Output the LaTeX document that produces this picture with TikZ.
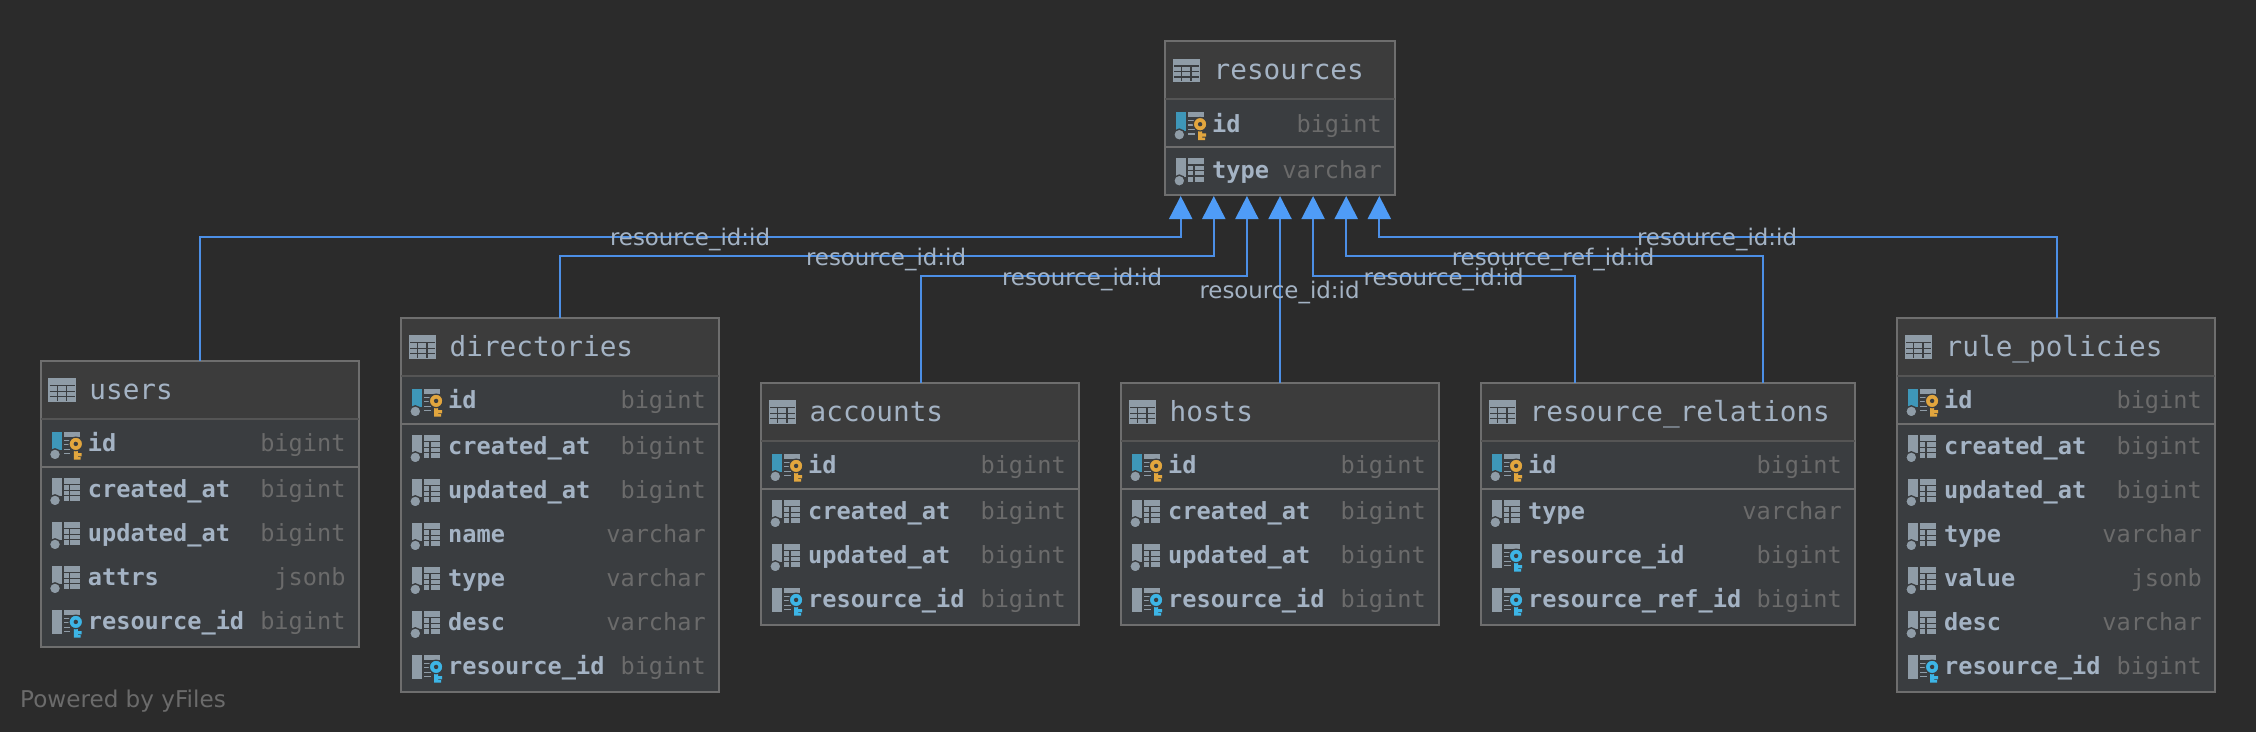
\documentclass[tikz,border=0pt]{standalone}
\usepackage{fontspec}
\setmainfont{DejaVu Sans}
\newfontfamily\tablefont{DejaVu Sans Mono}
\usetikzlibrary{arrows.meta}
\definecolor{canvas}{HTML}{2B2B2B}
\definecolor{headfill}{HTML}{3C3C3C}
\definecolor{rowfill}{HTML}{3A3D40}
\definecolor{edgegray}{HTML}{6E6E6E}
\definecolor{headline}{HTML}{555555}
\definecolor{nametext}{HTML}{A4B3C4}
\definecolor{typetext}{HTML}{6B6B6B}
\definecolor{iconbase}{HTML}{8F9CA7}
\definecolor{pkteal}{HTML}{3E97B9}
\definecolor{pkkey}{HTML}{E2A63E}
\definecolor{fkkey}{HTML}{3DB5E6}
\definecolor{linkblue}{HTML}{4C8FE6}
\definecolor{tipblue}{HTML}{4F9CF7}
\tikzset{
  tablebox/.style={draw=edgegray, fill=rowfill, line width=2pt, anchor=north west, inner sep=0pt, outer sep=0pt},
  tabletitle/.style={anchor=base west, inner sep=0pt, text=nametext, font=\tablefont\fontsize{27.7}{32}\selectfont},
  colname/.style={anchor=base west, inner sep=0pt, text=nametext, font=\tablefont\bfseries\fontsize{23.6}{28}\selectfont},
  coltype/.style={anchor=base east, inner sep=0pt, text=typetext, font=\tablefont\fontsize{23.6}{28}\selectfont},
  fklink/.style={draw=linkblue, line width=2pt, -{Triangle[width=23pt,length=23pt,color=tipblue]}},
  fklabel/.style={inner sep=0pt, text=nametext, font=\fontsize{22.9}{27}\selectfont},
}
% key drawn at the right of a column icon
\newcommand{\keyglyph}[1]{
  \fill[#1] (33.2,0) rectangle (37.2,16) (37,9.3) rectangle (41,12.7) (37,13.5) rectangle (40,16);
  \draw[rowfill, line width=1.2pt, fill=#1] (35.1,0.2) circle (6.8);
  \fill[rowfill] (35.1,0.2) circle (2.2);
}
\newcommand{\dashglyph}{
  \fill[iconbase] (23.3,-11.7) rectangle (39.3,-7);
  \foreach \d in {-3.5,1,5.5,10} \draw[iconbase, line width=1.4pt] (23.3,\d) -- (29.5,\d);
}
\newcommand{\plainicon}{
  \fill[iconbase] (11.3,-11.7) rectangle (21.3,6.7);
  \fill[iconbase] (23.3,-11.7) rectangle (39.3,11.7);
  \draw[rowfill, line width=1.2pt] (23.3,-5) -- (39.3,-5) (23.3,0.7) -- (39.3,0.7) (23.3,6) -- (39.3,6) (29,-5) -- (29,11.7);
  \draw[rowfill, line width=1.4pt, fill=iconbase] (14.3,10.7) circle (5.6);
}
\newcommand{\pkicon}{
  \fill[pkteal] (11.3,-11.7) rectangle (21.3,6.7);
  \dashglyph
  \keyglyph{pkkey}
  \draw[rowfill, line width=1.4pt, fill=iconbase] (14.3,10.7) circle (5.6);
}
\newcommand{\fkicon}{
  \fill[iconbase] (11.3,-12) rectangle (21.3,12);
  \dashglyph
  \keyglyph{fkkey}
}
% name, left, top, width, title, number of plain rows, rows
\newcommand{\dbtable}[7]{
  \pgfmathsetmacro{\tableh}{110+44*#6}
  \node[tablebox, minimum width=#4pt, minimum height=\tableh pt] (#1) at (#2,#3) {};
  \fill[headfill] (#2+1,#3+1) rectangle (#2+#4-1,#3+58);
  \draw[headline, line width=1.6pt] (#2,#3+58) -- (#2+#4,#3+58);
  \draw[edgegray, line width=1.6pt] (#2,#3+106) -- (#2+#4,#3+106);
  \fill[iconbase] (#2+7.6,#3+17.6) rectangle (#2+35.3,#3+41);
  \draw[rowfill, line width=1.2pt] (#2+9,#3+25) -- (#2+34,#3+25) (#2+9,#3+30.5) -- (#2+34,#3+30.5) (#2+9,#3+36) -- (#2+34,#3+36)
    (#2+16.6,#3+25) -- (#2+16.6,#3+40) (#2+26,#3+25) -- (#2+26,#3+40);
  \node[tabletitle] (#1title) at (#2+48.5,#3+38.7) {#5};
  \begin{scope}[shift={(#2,#3+83)}] \pkicon \end{scope}
  \node[colname] (#1id) at (#2+47,#3+91) {id};
  \node[coltype] (#1idtype) at (#2+#4-13,#3+91) {bigint};
  \foreach \cname/\ctype/\cicon [count=\i from 0] in {#7} {
    \pgfmathsetmacro{\rowy}{#3+129+44*\i}
    \begin{scope}[shift={(#2,\rowy)}] \cicon \end{scope}
    \node[colname] (#1col\i) at (#2+47,\rowy+8) {\cname};
    \node[coltype] (#1type\i) at (#2+#4-13,\rowy+8) {\ctype};
  }
}
\begin{document}
\begin{tikzpicture}[x=1pt,y=-1pt]
\useasboundingbox (0,0) rectangle (2256,732);
\fill[canvas] (0,0) rectangle (2256,732);
\dbtable{resources}{1165}{41}{230}{resources}{1}{type/varchar/\plainicon}
\dbtable{users}{40.7}{360.7}{318}{users}{4}{created\_at/bigint/\plainicon, updated\_at/bigint/\plainicon, attrs/jsonb/\plainicon, resource\_id/bigint/\fkicon}
\dbtable{directories}{401}{317.7}{318}{directories}{6}{created\_at/bigint/\plainicon, updated\_at/bigint/\plainicon, name/varchar/\plainicon, type/varchar/\plainicon, desc/varchar/\plainicon, resource\_id/bigint/\fkicon}
\dbtable{accounts}{761}{382.7}{318}{accounts}{3}{created\_at/bigint/\plainicon, updated\_at/bigint/\plainicon, resource\_id/bigint/\fkicon}
\dbtable{hosts}{1121}{382.7}{318}{hosts}{3}{created\_at/bigint/\plainicon, updated\_at/bigint/\plainicon, resource\_id/bigint/\fkicon}
\dbtable{relations}{1481}{382.7}{374}{resource\_relations}{3}{type/varchar/\plainicon, resource\_id/bigint/\fkicon, resource\_ref\_id/bigint/\fkicon}
\dbtable{policies}{1897}{317.7}{318}{rule\_policies}{6}{created\_at/bigint/\plainicon, updated\_at/bigint/\plainicon, type/varchar/\plainicon, value/jsonb/\plainicon, desc/varchar/\plainicon, resource\_id/bigint/\fkicon}
% arrow ends under resources
\foreach \n in {1,...,7} \coordinate (port\n) at (1180.7+33.1*\n-33.1,196);
\coordinate (usersout) at (200,360.7);
\coordinate (directoriesout) at (560,317.7);
\coordinate (accountsout) at (921,382.7);
\coordinate (hostsout) at (1280,382.7);
\coordinate (relationsout) at (1574.5,382.7);
\coordinate (relationsrefout) at (1762.5,382.7);
\coordinate (policiesout) at (2056.5,317.7);
\foreach \from/\port/\lane in {usersout/1/236.7, directoriesout/2/256.3, accountsout/3/276.3, relationsout/5/276.3, relationsrefout/6/256.3, policiesout/7/236.7}
  \draw[fklink] (\from) |- (port\port |- 0,\lane) -- (port\port);
\draw[fklink] (hostsout) -- (port4);
\node[fklabel] (usersfk) at (690,239.5) {resource\_id:id};
\node[fklabel] (directoriesfk) at (886,259) {resource\_id:id};
\node[fklabel] (accountsfk) at (1082,279) {resource\_id:id};
\node[fklabel] (hostsfk) at (1279.5,292.7) {resource\_id:id};
\node[fklabel] (relationsfk) at (1443.6,279) {resource\_id:id};
\node[fklabel] (relationsreffk) at (1553,259) {resource\_ref\_id:id};
\node[fklabel] (policiesfk) at (1717,239.5) {resource\_id:id};
\node[anchor=base west, inner sep=0pt, text=typetext, font=\fontsize{23.1}{27}\selectfont] (poweredby) at (20,707.7) {Powered by yFiles};
\end{tikzpicture}
\end{document}
